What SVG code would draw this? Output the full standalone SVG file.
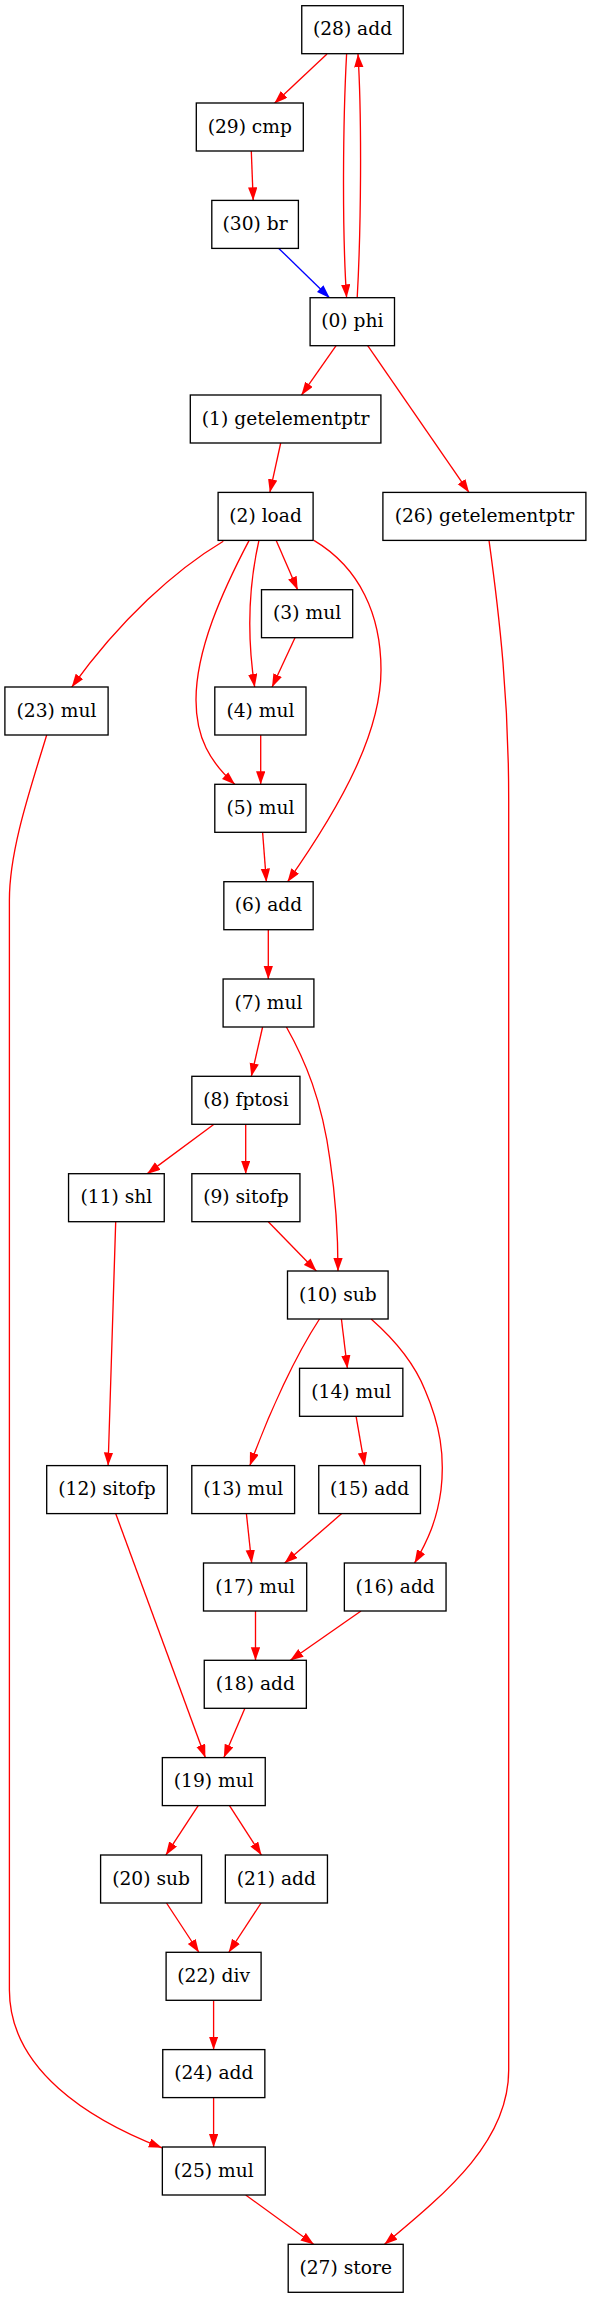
<svg xmlns="http://www.w3.org/2000/svg" width="591" height="2299" viewBox="0 0 591 2299">
<style>
.n rect{fill:#fff;stroke:#000;stroke-width:1.33}
.n text{font-family:"DejaVu Serif","Liberation Serif",serif;font-size:18.67px;text-anchor:middle;fill:#000}
.e path{fill:none;stroke:#f00;stroke-width:1.33}
.e path.b{stroke:#00f}
</style>
<defs>
<marker id="ar" markerUnits="userSpaceOnUse" markerWidth="14" markerHeight="10" refX="13.3" refY="4.67" orient="auto"><path d="M0,0 L13.3,4.67 L0,9.33 z" fill="#f00"/></marker>
<marker id="ab" markerUnits="userSpaceOnUse" markerWidth="14" markerHeight="10" refX="13.3" refY="4.67" orient="auto"><path d="M0,0 L13.3,4.67 L0,9.33 z" fill="#00f"/></marker>
</defs>
<rect width="591" height="2299" fill="#fff"/>
<g class="e" id="edges">
<path marker-end="url(#ar)" d="M327,54 L274.3,103.5"/>
<path marker-end="url(#ar)" d="M346.6,54 C343,120 342,230 346.6,297.7"/>
<path marker-end="url(#ar)" d="M357.2,297.7 C361,230 362,120 358,54"/>
<path marker-end="url(#ar)" d="M251.3,151 L253.2,200.6"/>
<path class="b" marker-end="url(#ab)" d="M278.8,248.4 L329.7,297.9"/>
<path marker-end="url(#ar)" d="M336.1,345.7 L301.4,395.2"/>
<path marker-end="url(#ar)" d="M367.7,345.7 L469.1,492.6"/>
<path marker-end="url(#ar)" d="M280.7,443 L269.8,492.6"/>
<path marker-end="url(#ar)" d="M276.2,540.4 L297.7,589.9"/>
<path marker-end="url(#ar)" d="M223.3,541.2 C175,570 120,620 71.7,687.2"/>
<path marker-end="url(#ar)" d="M258.9,540.6 C250,580 246,630 254.7,687.2"/>
<path marker-end="url(#ar)" d="M295,637.8 L272,687.2"/>
<path marker-end="url(#ar)" d="M249,540.6 C222,592 196,650 196,700 C196,738 210,762 235,784.5"/>
<path marker-end="url(#ar)" d="M260.7,735 L260.7,784.5"/>
<path marker-end="url(#ar)" d="M313.9,540.4 C360,568 381,615 381,670 C381,730 345,800 287.5,881.9"/>
<path marker-end="url(#ar)" d="M262.6,832.3 L266.4,881.9"/>
<path marker-end="url(#ar)" d="M268.3,929.7 L268.3,979.2"/>
<path marker-end="url(#ar)" d="M262.6,1027 L251.3,1076.5"/>
<path marker-end="url(#ar)" d="M286.4,1027 C305,1060 322,1100 330,1160 C336,1200 338,1240 338,1271.2"/>
<path marker-end="url(#ar)" d="M214,1124.3 L147,1173.9"/>
<path marker-end="url(#ar)" d="M245.7,1124.3 L245.7,1173.9"/>
<path marker-end="url(#ar)" d="M268.3,1221.7 L316.5,1271.2"/>
<path marker-end="url(#ar)" d="M115.7,1221.7 L108.1,1465.8"/>
<path marker-end="url(#ar)" d="M341.4,1319 L347.4,1368.5"/>
<path marker-end="url(#ar)" d="M319.5,1319 C296,1355 270,1410 249.8,1465.8"/>
<path marker-end="url(#ar)" d="M371.1,1319 C395,1340 415,1365 425,1390 C440,1425 445,1455 441,1490 C437,1520 428,1540 414.5,1563.2"/>
<path marker-end="url(#ar)" d="M356.1,1416.3 L364.7,1465.8"/>
<path marker-end="url(#ar)" d="M246.4,1513.6 L251.7,1563.2"/>
<path marker-end="url(#ar)" d="M341.7,1513.6 L284.5,1563.2"/>
<path marker-end="url(#ar)" d="M115.7,1513.6 L205.4,1757.8"/>
<path marker-end="url(#ar)" d="M255.5,1611 L255.5,1660.5"/>
<path marker-end="url(#ar)" d="M361,1611 L290.1,1660.5"/>
<path marker-end="url(#ar)" d="M244.9,1708.3 L223.8,1757.8"/>
<path marker-end="url(#ar)" d="M198.2,1805.6 L165.8,1855.2"/>
<path marker-end="url(#ar)" d="M229.5,1805.6 L261.5,1855.2"/>
<path marker-end="url(#ar)" d="M166.5,1903 L199,1952.5"/>
<path marker-end="url(#ar)" d="M261.1,1903 L228.7,1952.5"/>
<path marker-end="url(#ar)" d="M213.6,2000.3 L213.6,2049.8"/>
<path marker-end="url(#ar)" d="M213.6,2097.6 L213.6,2147.2"/>
<path marker-end="url(#ar)" d="M46.7,735 C30,790 9.4,850 9.4,900 L9.4,1990 C9.4,2070 90,2120 162,2147.8"/>
<path marker-end="url(#ar)" d="M489,540.4 C500,620 508.7,700 508.7,800 L508.7,2070 C508.7,2140 450,2190 384.3,2244.5"/>
<path marker-end="url(#ar)" d="M245.7,2195 L313.9,2244.5"/>
</g>
<g class="n" id="n28"><rect x="301.75" y="5.7" width="101.5" height="48"/><text x="352.5" y="35.2">(28) add</text></g>
<g class="n" id="n29"><rect x="196.3" y="103" width="107" height="48"/><text x="249.8" y="132.5">(29) cmp</text></g>
<g class="n" id="n30"><rect x="211.8" y="200.4" width="86.6" height="48"/><text x="255.1" y="229.9">(30) br</text></g>
<g class="n" id="n0"><rect x="310.1" y="297.7" width="84.4" height="48"/><text x="352.3" y="327.2">(0) phi</text></g>
<g class="n" id="n1"><rect x="190.3" y="395" width="190.6" height="48"/><text x="285.6" y="424.5">(1) getelementptr</text></g>
<g class="n" id="n2"><rect x="218.1" y="492.4" width="95" height="48"/><text x="265.6" y="521.9">(2) load</text></g>
<g class="n" id="n26"><rect x="382.9" y="492.4" width="203" height="48"/><text x="484.4" y="521.9">(26) getelementptr</text></g>
<g class="n" id="n3"><rect x="261.5" y="589.7" width="91.2" height="48"/><text x="307.1" y="619.2">(3) mul</text></g>
<g class="n" id="n23"><rect x="4.9" y="687" width="103.2" height="48"/><text x="56.5" y="716.5">(23) mul</text></g>
<g class="n" id="n4"><rect x="214.8" y="687" width="91.2" height="48"/><text x="260.4" y="716.5">(4) mul</text></g>
<g class="n" id="n5"><rect x="214.8" y="784.3" width="91.2" height="48"/><text x="260.4" y="813.8">(5) mul</text></g>
<g class="n" id="n6"><rect x="223.85" y="881.7" width="89.3" height="48"/><text x="268.5" y="911.2">(6) add</text></g>
<g class="n" id="n7"><rect x="223.1" y="979" width="90.8" height="48"/><text x="268.5" y="1008.5">(7) mul</text></g>
<g class="n" id="n8"><rect x="191.85" y="1076.3" width="108.1" height="48"/><text x="245.9" y="1105.8">(8) fptosi</text></g>
<g class="n" id="n11"><rect x="68.55" y="1173.7" width="95.7" height="48"/><text x="116.4" y="1203.2">(11) shl</text></g>
<g class="n" id="n9"><rect x="191.85" y="1173.7" width="108.1" height="48"/><text x="245.9" y="1203.2">(9) sitofp</text></g>
<g class="n" id="n10"><rect x="287.5" y="1271" width="100.6" height="48"/><text x="337.8" y="1300.5">(10) sub</text></g>
<g class="n" id="n14"><rect x="299.55" y="1368.3" width="103.3" height="48"/><text x="351.2" y="1397.8">(14) mul</text></g>
<g class="n" id="n12"><rect x="46.7" y="1465.6" width="120.6" height="48"/><text x="107" y="1495.1">(12) sitofp</text></g>
<g class="n" id="n13"><rect x="191.8" y="1465.6" width="102.8" height="48"/><text x="243.2" y="1495.1">(13) mul</text></g>
<g class="n" id="n15"><rect x="318.75" y="1465.6" width="101.7" height="48"/><text x="369.6" y="1495.1">(15) add</text></g>
<g class="n" id="n17"><rect x="203.5" y="1563" width="103.2" height="48"/><text x="255.1" y="1592.5">(17) mul</text></g>
<g class="n" id="n16"><rect x="344.35" y="1563" width="101.7" height="48"/><text x="395.2" y="1592.5">(16) add</text></g>
<g class="n" id="n18"><rect x="204.25" y="1660.3" width="102.1" height="48"/><text x="255.3" y="1689.8">(18) add</text></g>
<g class="n" id="n19"><rect x="162.35" y="1757.6" width="102.9" height="48"/><text x="213.8" y="1787.1">(19) mul</text></g>
<g class="n" id="n20"><rect x="100.6" y="1855" width="101" height="48"/><text x="151.1" y="1884.5">(20) sub</text></g>
<g class="n" id="n21"><rect x="225.35" y="1855" width="102.1" height="48"/><text x="276.4" y="1884.5">(21) add</text></g>
<g class="n" id="n22"><rect x="166.1" y="1952.3" width="95" height="48"/><text x="213.6" y="1981.8">(22) div</text></g>
<g class="n" id="n24"><rect x="162.75" y="2049.6" width="102.1" height="48"/><text x="213.8" y="2079.1">(24) add</text></g>
<g class="n" id="n25"><rect x="162.35" y="2147" width="102.9" height="48"/><text x="213.8" y="2176.5">(25) mul</text></g>
<g class="n" id="n27"><rect x="288.2" y="2244.3" width="115" height="48"/><text x="345.7" y="2273.8">(27) store</text></g>
</svg>
